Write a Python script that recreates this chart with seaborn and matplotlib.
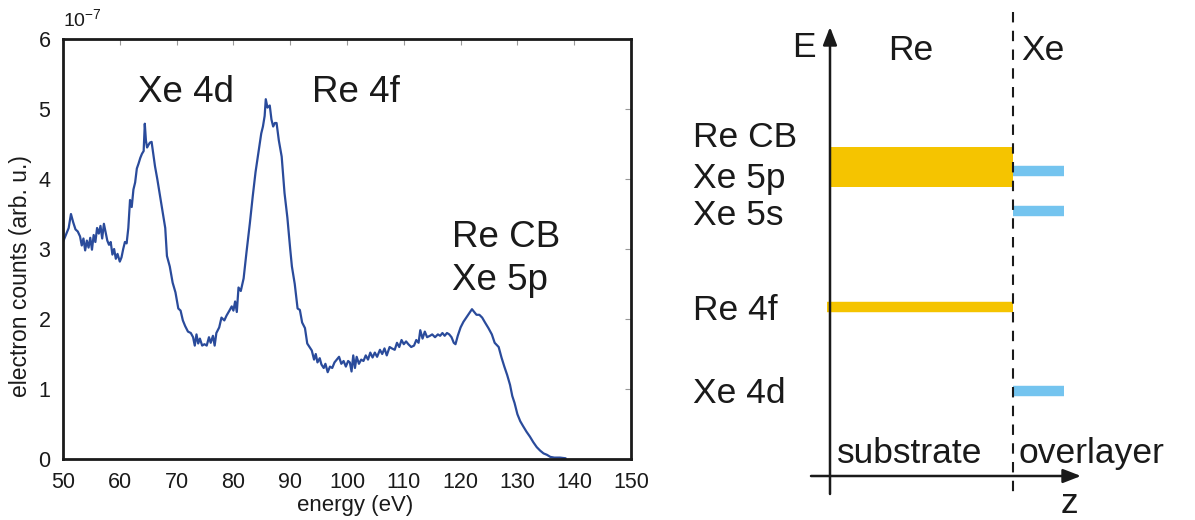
import matplotlib
matplotlib.use("Agg")
import matplotlib.pyplot as plt
import seaborn as sns
import pandas as pd

# ---------------- data ----------------
energy = [50.0, 50.5, 51.0, 51.4, 51.8, 52.2, 52.6, 53.0, 53.3, 53.6, 53.9, 54.2, 54.5, 54.8, 55.1, 55.4,
          55.7, 56.0, 56.3, 56.6, 56.9, 57.2, 57.5, 57.8, 58.1, 58.4, 58.7, 59.0, 59.3, 59.6, 60.0, 60.3,
          60.6, 60.9, 61.2, 61.5, 61.8, 62.1, 62.4, 62.7, 63.0, 63.3, 63.6, 63.9, 64.2, 64.4, 64.6, 64.8,
          65.0, 65.3, 65.6, 65.9, 66.2, 66.6, 67.0, 67.5, 68.0, 68.3, 68.8, 69.3, 69.8, 70.3, 70.7, 71.1,
          71.5, 72.0, 72.5, 72.9, 73.2, 73.5, 73.8, 74.1, 74.5, 74.9, 75.3, 75.7, 76.0, 76.4, 76.7, 77.0,
          77.5, 77.9, 78.4, 78.8, 79.3, 79.7, 80.0, 80.3, 80.6, 80.9, 81.3, 81.8, 82.3, 82.9, 83.4, 83.9,
          84.4, 84.9, 85.2, 85.5, 85.7, 86.0, 86.4, 86.7, 87.0, 87.3, 87.6, 88.0, 88.5, 89.0, 89.5, 90.0,
          90.3, 90.8, 91.3, 91.7, 92.1, 92.6, 93.0, 93.4, 93.8, 94.2, 94.5, 94.8, 95.2, 95.5, 95.9, 96.2,
          96.6, 97.0, 97.4, 97.8, 98.2, 98.6, 99.0, 99.4, 99.8, 100.2, 100.5, 100.8, 101.1, 101.4, 101.7,
          102.1, 102.5, 102.9, 103.3, 103.7, 104.1, 104.5, 104.9, 105.3, 105.8, 106.2, 106.6, 107.0, 107.5,
          107.9, 108.4, 108.8, 109.2, 109.6, 110.0, 110.4, 110.8, 111.3, 111.8, 112.2, 112.6, 112.9, 113.3,
          113.7, 114.1, 114.6, 115.0, 115.5, 116.0, 116.4, 116.8, 117.2, 117.6, 118.0, 118.4, 118.8, 119.1,
          119.5, 120.0, 120.5, 121.0, 121.5, 122.0, 122.4, 122.8, 123.3, 123.8, 124.3, 124.9, 125.5, 126.0,
          126.7, 127.2, 127.7, 128.2, 128.7, 129.1, 129.5, 130.0, 130.5, 131.0, 131.6, 132.2, 132.8, 133.4,
          134.0, 134.6, 135.2, 135.8, 136.5, 137.5, 138.5]
counts = [3.10, 3.20, 3.30, 3.50, 3.38, 3.28, 3.25, 3.18, 3.05, 3.15, 2.98, 3.12, 3.02, 3.16, 2.99, 3.20,
          3.10, 3.30, 3.22, 3.33, 3.15, 3.36, 3.24, 3.12, 3.06, 3.10, 2.92, 3.00, 2.86, 2.93, 2.82, 2.88,
          3.00, 3.10, 3.08, 3.30, 3.70, 3.60, 3.85, 3.95, 4.15, 4.22, 4.30, 4.36, 4.40, 4.79, 4.55, 4.45,
          4.48, 4.52, 4.53, 4.35, 4.18, 4.00, 3.80, 3.55, 3.30, 2.90, 2.75, 2.52, 2.38, 2.15, 2.12, 1.98,
          1.90, 1.82, 1.80, 1.74, 1.62, 1.78, 1.65, 1.72, 1.62, 1.64, 1.62, 1.74, 1.66, 1.76, 1.62, 1.80,
          1.88, 2.02, 1.98, 2.05, 2.12, 2.18, 2.12, 2.25, 2.10, 2.45, 2.40, 2.58, 2.95, 3.37, 3.75, 4.10,
          4.38, 4.65, 4.75, 4.90, 5.14, 5.02, 5.05, 4.85, 4.75, 4.80, 4.80, 4.55, 4.32, 3.80, 3.45, 3.00,
          2.75, 2.50, 2.15, 2.13, 1.95, 1.87, 1.65, 1.60, 1.55, 1.42, 1.50, 1.38, 1.44, 1.35, 1.30, 1.36,
          1.24, 1.32, 1.30, 1.38, 1.42, 1.46, 1.36, 1.40, 1.32, 1.40, 1.38, 1.25, 1.48, 1.30, 1.46,
          1.36, 1.42, 1.40, 1.48, 1.42, 1.52, 1.45, 1.52, 1.46, 1.56, 1.50, 1.58, 1.48, 1.60,
          1.58, 1.56, 1.66, 1.60, 1.70, 1.64, 1.68, 1.64, 1.60, 1.62, 1.70, 1.66, 1.84, 1.72,
          1.82, 1.74, 1.76, 1.78, 1.74, 1.78, 1.76, 1.80, 1.76, 1.80, 1.78, 1.74, 1.66, 1.64,
          1.76, 1.88, 1.96, 2.02, 2.08, 2.14, 2.10, 2.06, 2.06, 2.02, 1.95, 1.87, 1.78, 1.66,
          1.60, 1.45, 1.32, 1.20, 1.06, 0.90, 0.80, 0.64, 0.54, 0.47, 0.39, 0.32, 0.24, 0.17,
          0.12, 0.08, 0.06, 0.03, 0.02, 0.02, 0.01]

x_ticks = [50, 60, 70, 80, 90, 100, 110, 120, 130, 140, 150]
y_ticks = [0, 1, 2, 3, 4, 5, 6]

peak_labels = ["Xe 4d", "Re 4f", "Re CB", "Xe 5p"]
peak_label_x = [71.6, 101.6, 118.5, 118.4]
peak_label_y = [5.1, 5.1, 3.03, 2.41]
peak_label_ha = ["center", "center", "left", "left"]

# schematic (right panel) levels, in diagram coordinates (pixel-like units)
level_names = ["Re CB", "Xe 5p", "Xe 5s", "Re 4f", "Xe 4d"]
level_label_y = [147, 188, 225, 320, 403]   # baselines
band_re_cb = (147, 187)          # top, bottom of Re conduction band
line_re_4f = 307
xe_levels = [171, 211, 391]

# ---------------- style ----------------
sns.set_theme(style="white")
plt.rcParams["font.family"] = ["Liberation Sans", "DejaVu Sans"]
plt.rcParams["mathtext.fontset"] = "custom"
plt.rcParams["mathtext.rm"] = "Liberation Sans"
plt.rcParams["mathtext.it"] = "Liberation Sans"

W, H = 1195, 520
fig = plt.figure(figsize=(W / 100, H / 100), dpi=100)
fig.patch.set_facecolor("white")

dark = "#1a1a1a"

# ---------------- left: spectrum ----------------
ax = fig.add_axes([63 / W, 1 - 459 / H, (631 - 63) / W, (459 - 39) / H])
df = pd.DataFrame({"energy": energy, "counts": counts})
sns.lineplot(data=df, x="energy", y="counts", ax=ax, color="#2a4b9b", linewidth=1.6)
ax.set_xlim(50, 150)
ax.set_ylim(0, 6)
ax.set_xticks(x_ticks)
ax.set_yticks(y_ticks)
ax.set_xticklabels([str(v) for v in x_ticks])
ax.set_yticklabels([str(v) for v in y_ticks])
ax.tick_params(direction="in", length=4, width=0.8, colors="#999999", top=True, right=True,
               labelsize=15.5, labelcolor=dark, pad=9)
for s in ax.spines.values():
    s.set_visible(True)
    s.set_color(dark)
    s.set_linewidth(2)
ax.set_xlabel("energy (eV)", fontsize=16, color=dark)
ax.set_ylabel("electron counts (arb. u.)", fontsize=16.5, color=dark)
ax.xaxis.set_label_coords(0.515, -0.0857)
ax.yaxis.set_label_coords(-0.0546, 0.4345)
ax.set_facecolor("white")
ax.grid(False)
ax.text(0.0, 1.02, r"10$^{-7}$", transform=ax.transAxes, fontsize=14, color=dark,
        ha="left", va="bottom")
for lab, lx, ly, lha in zip(peak_labels, peak_label_x, peak_label_y, peak_label_ha):
    ax.text(lx, ly, lab, fontsize=26.5, color=dark, ha=lha, va="baseline")

# ---------------- right: schematic ----------------
ax2 = fig.add_axes([650 / W, 0, (W - 650) / W, 1])
ax2.set_xlim(650, W)
ax2.set_ylim(H, 0)
ax2.axis("off")

orange = "#f5c400"
blue = "#74c4ef"
x_axis0, x_iface, x_xe_end = 830, 1013, 1064

# Re conduction band
ax2.fill_between([x_axis0, x_iface], band_re_cb[0], band_re_cb[1], color=orange, linewidth=0)
# Re 4f line
ax2.plot([x_axis0 - 3, x_iface], [line_re_4f, line_re_4f], color=orange, linewidth=7.5,
         solid_capstyle="butt")
# Xe levels
for yl in xe_levels:
    ax2.plot([x_iface, x_xe_end], [yl, yl], color=blue, linewidth=7.5, solid_capstyle="butt")

# energy axis
ax2.annotate("", xy=(x_axis0, 27), xytext=(x_axis0, 494),
             arrowprops=dict(arrowstyle="-|>,head_length=0.9,head_width=0.35", color=dark,
                             linewidth=1.8, shrinkA=0, shrinkB=0))
# z axis
ax2.annotate("", xy=(1081, 476), xytext=(811, 476),
             arrowprops=dict(arrowstyle="-|>,head_length=0.9,head_width=0.35", color=dark,
                             linewidth=1.8, shrinkA=0, shrinkB=0))
# interface
ax2.plot([x_iface, x_iface], [12, 498], color=dark, linewidth=1.5, linestyle=(0, (5, 4)))

fs = 25.5
ax2.text(792, 57, "E", fontsize=fs, color=dark, ha="left", va="baseline")
ax2.text(911, 60, "Re", fontsize=fs, color=dark, ha="center", va="baseline")
ax2.text(1021, 60, "Xe", fontsize=fs, color=dark, ha="left", va="baseline")
for name, yl in zip(level_names, level_label_y):
    ax2.text(693, yl, name, fontsize=fs, color=dark, ha="left", va="baseline")
ax2.text(837, 463, "substrate", fontsize=fs, color=dark, ha="left", va="baseline")
ax2.text(1019, 463, "overlayer", fontsize=fs, color=dark, ha="left", va="baseline")
ax2.text(1069, 513, "z", fontsize=fs, color=dark, ha="center", va="baseline")

fig.savefig("out.png", dpi=100, facecolor="white")
